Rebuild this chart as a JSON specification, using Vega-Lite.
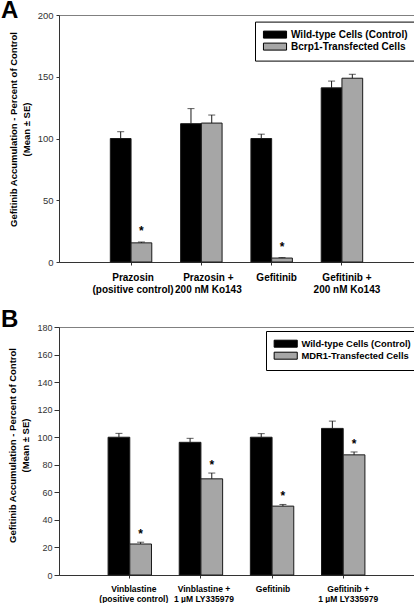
{
  "$schema": "https://vega.github.io/schema/vega-lite/v6.json",
  "padding": {"left": 0, "top": -2, "right": 0, "bottom": 0},
  "spacing": 12,
  "config": {
    "font": "Liberation Sans",
    "view": {"stroke": "#808080", "strokeWidth": 1},
    "axis": {"grid": false, "labelOverlap": false}
  },
  "vconcat": [
    {
      "width": 355,
      "height": 247,
      "title": {"text": "A", "anchor": "start", "frame": "group", "offset": 0, "dx": -58, "dy": 32, "fontSize": 24, "fontWeight": "bold", "baseline": "alphabetic", "color": "black"},
      "data": {"values": [
        {"treatment": "Prazosin|(positive control)", "cells": "Wild-type Cells (Control)", "mean": 100, "upper": 105.5, "sig": ""},
        {"treatment": "Prazosin|(positive control)", "cells": "Bcrp1-Transfected Cells", "mean": 15.5, "upper": 16.2, "sig": "*"},
        {"treatment": "Prazosin +|200 nM Ko143", "cells": "Wild-type Cells (Control)", "mean": 112, "upper": 124.2, "sig": ""},
        {"treatment": "Prazosin +|200 nM Ko143", "cells": "Bcrp1-Transfected Cells", "mean": 112.5, "upper": 119, "sig": ""},
        {"treatment": "Gefitinib", "cells": "Wild-type Cells (Control)", "mean": 100, "upper": 103.5, "sig": ""},
        {"treatment": "Gefitinib", "cells": "Bcrp1-Transfected Cells", "mean": 3.2, "upper": 3.6, "sig": "*"},
        {"treatment": "Gefitinib +|200 nM Ko143", "cells": "Wild-type Cells (Control)", "mean": 141, "upper": 146.5, "sig": ""},
        {"treatment": "Gefitinib +|200 nM Ko143", "cells": "Bcrp1-Transfected Cells", "mean": 148.8, "upper": 152, "sig": ""}
      ]},
      "encoding": {
        "x": {"field": "treatment", "type": "nominal", "sort": null,
          "scale": {"paddingInner": 0.41, "paddingOuter": 0.73},
          "axis": {"title": null, "labelAngle": 0, "tickSize": 3, "labelPadding": 7, "labelFontWeight": "bold", "labelFontSize": 10, "labelColor": "black", "labelLineHeight": 12, "labelBaseline": "top", "labelExpr": "split(datum.label, '|')", "domainColor": "#333", "tickColor": "#333",
            "labelOffset": {"expr": "datum.value === 'Prazosin|(positive control)' ? 2 : datum.value === 'Prazosin +|200 nM Ko143' ? 7 : 5"}}},
        "xOffset": {"field": "cells", "type": "nominal", "sort": ["Wild-type Cells (Control)", "Bcrp1-Transfected Cells"], "scale": {"paddingInner": 0, "paddingOuter": 0}}
      },
      "layer": [
        {
          "mark": {"type": "bar", "stroke": "#1a1a1a", "strokeWidth": 1},
          "encoding": {
            "y": {"field": "mean", "type": "quantitative", "scale": {"domain": [0, 200], "nice": false},
              "axis": {"values": [0, 50, 100, 150, 200], "labelOverlap": false, "tickSize": 3, "labelPadding": 3, "labelFontSize": 9.5, "labelColor": "#333", "domainColor": "#333", "tickColor": "#333",
                "title": ["Gefitinib Accumulation - Percent of Control", "(Mean ± SE)"], "titleFontSize": 9.5, "titleFontWeight": "bold", "titleColor": "black", "titleLineHeight": 13, "titlePadding": 6, "titleY": 114}},
            "color": {"field": "cells", "type": "nominal", "sort": ["Wild-type Cells (Control)", "Bcrp1-Transfected Cells"],
              "scale": {"range": ["#000000", "#a6a6a6"]},
              "legend": {"orient": "none", "legendX": 196, "legendY": 6.6, "title": null, "strokeColor": "black", "fillColor": "white", "padding": 8,
                "symbolType": "M-3.3,-1H3.3V1H-3.3Z", "symbolSize": 49, "symbolOffset": 7, "symbolStrokeColor": "black", "symbolStrokeWidth": 1, "symbolOpacity": 1,
                "labelFontSize": 10, "labelFontWeight": "bold", "labelColor": "black", "labelOffset": 11, "rowPadding": 0}}
          }
        },
        {
          "mark": {"type": "rule", "color": "#1a1a1a", "strokeWidth": 1},
          "encoding": {"y": {"field": "mean", "type": "quantitative",
              "axis": {"values": [0, 50, 100, 150, 200], "labelOverlap": false, "tickSize": 3, "labelPadding": 3, "labelFontSize": 9.5, "labelColor": "#333", "domainColor": "#333", "tickColor": "#333",
                "title": ["Gefitinib Accumulation - Percent of Control", "(Mean ± SE)"], "titleFontSize": 9.5, "titleFontWeight": "bold", "titleColor": "black", "titleLineHeight": 13, "titlePadding": 6, "titleY": 114}},
            "y2": {"field": "upper"}}
        },
        {
          "mark": {"type": "tick", "color": "#1a1a1a", "size": 7, "thickness": 1},
          "encoding": {"y": {"field": "upper", "type": "quantitative",
              "axis": {"values": [0, 50, 100, 150, 200], "labelOverlap": false, "tickSize": 3, "labelPadding": 3, "labelFontSize": 9.5, "labelColor": "#333", "domainColor": "#333", "tickColor": "#333",
                "title": ["Gefitinib Accumulation - Percent of Control", "(Mean ± SE)"], "titleFontSize": 9.5, "titleFontWeight": "bold", "titleColor": "black", "titleLineHeight": 13, "titlePadding": 6, "titleY": 114}}}
        },
        {
          "mark": {"type": "text", "fontSize": 12, "fontWeight": "bold", "color": "black", "baseline": "alphabetic", "dy": -6.5},
          "encoding": {"y": {"field": "upper", "type": "quantitative",
              "axis": {"values": [0, 50, 100, 150, 200], "labelOverlap": false, "tickSize": 3, "labelPadding": 3, "labelFontSize": 9.5, "labelColor": "#333", "domainColor": "#333", "tickColor": "#333",
                "title": ["Gefitinib Accumulation - Percent of Control", "(Mean ± SE)"], "titleFontSize": 9.5, "titleFontWeight": "bold", "titleColor": "black", "titleLineHeight": 13, "titlePadding": 6, "titleY": 114}},
            "text": {"field": "sig"}}
        }
      ]
    },
    {
      "width": 355,
      "height": 248,
      "title": {"text": "B", "anchor": "start", "frame": "group", "offset": 0, "dx": -58, "dy": 27.5, "fontSize": 24, "fontWeight": "bold", "baseline": "alphabetic", "color": "black"},
      "data": {"values": [
        {"treatment": "Vinblastine|(positive control)", "cells": "Wild-type Cells (Control)", "mean": 100, "upper": 102.8, "sig": ""},
        {"treatment": "Vinblastine|(positive control)", "cells": "MDR1-Transfected Cells", "mean": 22.5, "upper": 23.8, "sig": "*"},
        {"treatment": "Vinblastine +|1 µM LY335979", "cells": "Wild-type Cells (Control)", "mean": 96.3, "upper": 99.2, "sig": ""},
        {"treatment": "Vinblastine +|1 µM LY335979", "cells": "MDR1-Transfected Cells", "mean": 69.8, "upper": 74, "sig": "*"},
        {"treatment": "Gefitinib", "cells": "Wild-type Cells (Control)", "mean": 100, "upper": 102.6, "sig": ""},
        {"treatment": "Gefitinib", "cells": "MDR1-Transfected Cells", "mean": 50, "upper": 51.2, "sig": "*"},
        {"treatment": "Gefitinib +|1 µM LY335979", "cells": "Wild-type Cells (Control)", "mean": 106.4, "upper": 111.7, "sig": ""},
        {"treatment": "Gefitinib +|1 µM LY335979", "cells": "MDR1-Transfected Cells", "mean": 87.2, "upper": 89.3, "sig": "*"}
      ]},
      "encoding": {
        "x": {"field": "treatment", "type": "nominal", "sort": null,
          "scale": {"paddingInner": 0.39, "paddingOuter": 0.69},
          "axis": {"title": null, "labelAngle": 0, "tickSize": 3, "labelPadding": 6, "labelFontWeight": "bold", "labelFontSize": 8.5, "labelColor": "black", "labelLineHeight": 10, "labelBaseline": "top", "labelExpr": "split(datum.label, '|')", "domainColor": "#333", "tickColor": "#333",
            "labelOffset": {"expr": "datum.value === 'Vinblastine|(positive control)' ? 4 : datum.value === 'Vinblastine +|1 µM LY335979' ? 3 : datum.value === 'Gefitinib' ? 1 : 5"}}},
        "xOffset": {"field": "cells", "type": "nominal", "sort": ["Wild-type Cells (Control)", "MDR1-Transfected Cells"], "scale": {"paddingInner": 0, "paddingOuter": 0}}
      },
      "layer": [
        {
          "mark": {"type": "bar", "stroke": "#1a1a1a", "strokeWidth": 1},
          "encoding": {
            "y": {"field": "mean", "type": "quantitative", "scale": {"domain": [0, 180], "nice": false},
              "axis": {"values": [0, 20, 40, 60, 80, 100, 120, 140, 160, 180], "labelOverlap": false, "tickSize": 5, "labelPadding": 2, "labelFontSize": 9, "labelColor": "#333", "domainColor": "#333", "tickColor": "#333",
                "title": ["Gefitinib Accumulation - Percent of Control", "(Mean ± SE)"], "titleFontSize": 9.5, "titleFontWeight": "bold", "titleColor": "black", "titleLineHeight": 13, "titlePadding": 6, "titleY": 118}},
            "color": {"field": "cells", "type": "nominal", "sort": ["Wild-type Cells (Control)", "MDR1-Transfected Cells"],
              "scale": {"range": ["#000000", "#a6a6a6"]},
              "legend": {"orient": "none", "legendX": 207, "legendY": 4, "title": null, "strokeColor": "black", "fillColor": "white", "padding": 8,
                "symbolType": "M-3.3,-1H3.3V1H-3.3Z", "symbolSize": 49, "symbolOffset": 7, "symbolStrokeColor": "black", "symbolStrokeWidth": 1, "symbolOpacity": 1,
                "labelFontSize": 9.4, "labelFontWeight": "bold", "labelColor": "black", "labelOffset": 11, "rowPadding": 0}}
          }
        },
        {
          "mark": {"type": "rule", "color": "#1a1a1a", "strokeWidth": 1},
          "encoding": {"y": {"field": "mean", "type": "quantitative",
              "axis": {"values": [0, 20, 40, 60, 80, 100, 120, 140, 160, 180], "labelOverlap": false, "tickSize": 5, "labelPadding": 2, "labelFontSize": 9, "labelColor": "#333", "domainColor": "#333", "tickColor": "#333",
                "title": ["Gefitinib Accumulation - Percent of Control", "(Mean ± SE)"], "titleFontSize": 9.5, "titleFontWeight": "bold", "titleColor": "black", "titleLineHeight": 13, "titlePadding": 6, "titleY": 118}},
            "y2": {"field": "upper"}}
        },
        {
          "mark": {"type": "tick", "color": "#1a1a1a", "size": 7, "thickness": 1},
          "encoding": {"y": {"field": "upper", "type": "quantitative",
              "axis": {"values": [0, 20, 40, 60, 80, 100, 120, 140, 160, 180], "labelOverlap": false, "tickSize": 5, "labelPadding": 2, "labelFontSize": 9, "labelColor": "#333", "domainColor": "#333", "tickColor": "#333",
                "title": ["Gefitinib Accumulation - Percent of Control", "(Mean ± SE)"], "titleFontSize": 9.5, "titleFontWeight": "bold", "titleColor": "black", "titleLineHeight": 13, "titlePadding": 6, "titleY": 118}}}
        },
        {
          "mark": {"type": "text", "fontSize": 12, "fontWeight": "bold", "color": "black", "baseline": "alphabetic", "dy": -4},
          "encoding": {"y": {"field": "upper", "type": "quantitative",
              "axis": {"values": [0, 20, 40, 60, 80, 100, 120, 140, 160, 180], "labelOverlap": false, "tickSize": 5, "labelPadding": 2, "labelFontSize": 9, "labelColor": "#333", "domainColor": "#333", "tickColor": "#333",
                "title": ["Gefitinib Accumulation - Percent of Control", "(Mean ± SE)"], "titleFontSize": 9.5, "titleFontWeight": "bold", "titleColor": "black", "titleLineHeight": 13, "titlePadding": 6, "titleY": 118}},
            "text": {"field": "sig"}}
        }
      ]
    }
  ],
  "resolve": {"scale": {"color": "independent", "x": "independent", "y": "independent", "xOffset": "independent"}}
}
